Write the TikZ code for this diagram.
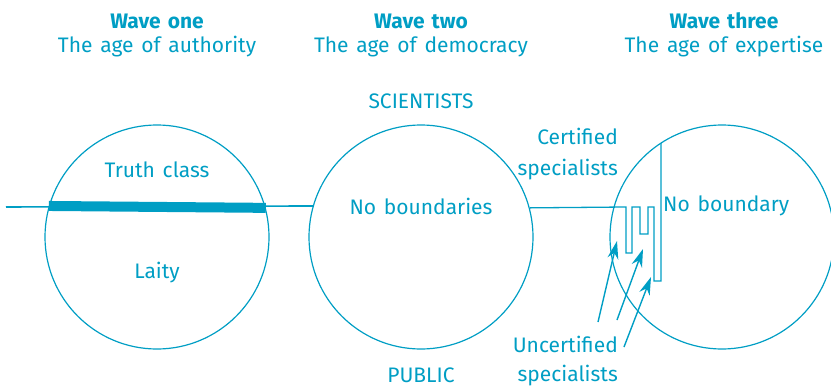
\documentclass[tikz,border=0pt]{standalone}
\usepackage{fontspec}
\setmainfont{Fira Sans}[WordSpace=1.4]
\usetikzlibrary{arrows.meta}
\definecolor{wave}{HTML}{009EC4}
\begin{document}
\begin{tikzpicture}[x=1pt,y=-1pt,
  lbl/.style={text=wave, font=\fontsize{21}{24}\selectfont, inner sep=0pt},
  head/.style={lbl, font=\fontsize{21}{24}\selectfont\bfseries},
  ring/.style={circle, draw=wave, line width=1.2pt, minimum size=224pt, inner sep=0pt},
  ln/.style={draw=wave, line width=1.6pt},
  bar/.style={draw=wave, line width=10pt},
  pointer/.style={draw=wave, line width=1.4pt, -{Stealth[length=18pt,width=11pt]}}]
\useasboundingbox (0,0) rectangle (831,388);
% circles
\node[ring] (c1) at (157,237) {};
\node[ring] (c2) at (421,237) {};
\node[ring] (c3) at (722,237) {};
% headings
\node[head] (h1) at (157,21) {Wave one};
\node[lbl]  (s1) at (157,47) {The age of authority};
\node[head] (h2) at (421,21) {Wave two};
\node[lbl]  (s2) at (421,47) {The age of democracy};
\node[head] (h3) at (724,21) {Wave three};
\node[lbl]  (s3) at (724,47) {The age of expertise};
% labels
\node[lbl] (sci) at (421,101) {SCIENTISTS};
\node[lbl] (pub) at (421,375) {PUBLIC};
\node[lbl] (tc) at (157,170) {Truth class};
\node[lbl] (la) at (157,273) {Laity};
\node[lbl] (nb) at (421,206) {No boundaries};
\node[lbl, anchor=west] (nb3) at (663,206) {No boundary};
\node[lbl, anchor=east] (cert1) at (618,136) {Certified};
\node[lbl, anchor=east] (cert2) at (618,170) {specialists};
\node[lbl, anchor=east] (unc1) at (618,344) {Uncertified};
\node[lbl, anchor=east] (unc2) at (618,376) {specialists};
% wave one / two line
\coordinate (lstart) at (6,207);
\draw[ln] (lstart) -- (c2.164.5);
\draw[bar] (c1.164.5) -- (c1.15.5);
% comb to wave three
\coordinate (ctop) at (661,143);
\draw[ln, line width=1.3pt] (c2.15.5) -- (626,207) -- (626,253) -- (632,253) -- (632,207)
  -- (640,207) -- (640,234) -- (648,234) -- (648,207) -- (654,207) -- (654,281)
  -- (661,281) -- (ctop);
% arrows
\coordinate (a1s) at (598,322); \coordinate (a1e) at (617,241);
\coordinate (a2s) at (617,320); \coordinate (a2e) at (643,249);
\coordinate (a3s) at (624,347); \coordinate (a3e) at (651,277);
\draw[pointer] (a1s) -- (a1e);
\draw[pointer] (a2s) -- (a2e);
\draw[pointer] (a3s) -- (a3e);
\end{tikzpicture}
\end{document}
